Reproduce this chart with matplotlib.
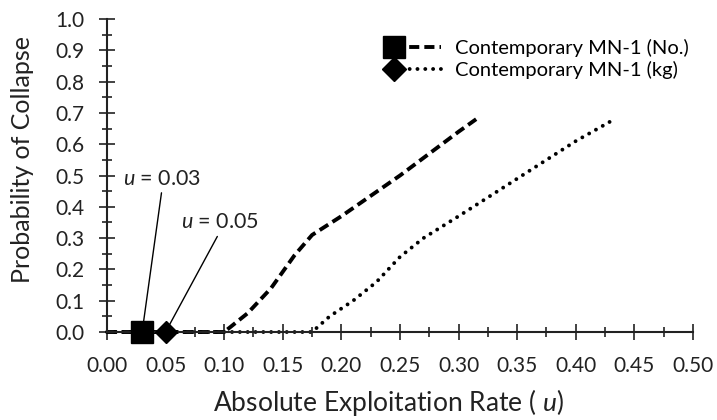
import matplotlib
matplotlib.use("Agg")
import matplotlib.pyplot as plt
from matplotlib.lines import Line2D
from matplotlib.legend_handler import HandlerLine2D
from matplotlib.ticker import MultipleLocator, FormatStrFormatter

plt.rcParams['font.family'] = ['Lato', 'DejaVu Sans']
plt.rcParams['mathtext.fontset'] = 'custom'
plt.rcParams['mathtext.it'] = 'Lato:italic'
plt.rcParams['mathtext.rm'] = 'Lato'

# probability of collapse vs absolute exploitation rate
u_no = [0.00, 0.05, 0.10, 0.12, 0.14, 0.16, 0.175, 0.20, 0.25, 0.30, 0.315]
p_no = [0.00, 0.00, 0.00, 0.06, 0.14, 0.245, 0.31, 0.37, 0.50, 0.64, 0.68]

u_kg = [0.00, 0.05, 0.10, 0.15, 0.175, 0.19, 0.21, 0.23, 0.25, 0.27, 0.30, 0.35, 0.40, 0.433]
p_kg = [0.00, 0.00, 0.00, 0.00, 0.00, 0.05, 0.10, 0.16, 0.24, 0.30, 0.37, 0.49, 0.61, 0.68]

u_thresh_no = 0.03
u_thresh_kg = 0.05

labels = ["Contemporary MN-1 (No.)", "Contemporary MN-1 (kg)"]

DASH = (0, (2.6, 1.3))
DOT = (0, (0.01, 2.0))


class MarkerFirst(HandlerLine2D):
    # keep only the left marker of the legend handle
    def create_artists(self, legend, orig_handle, xdescent, ydescent,
                       width, height, fontsize, trans):
        arts = super().create_artists(legend, orig_handle, xdescent, ydescent,
                                      width, height, fontsize, trans)
        arts[0].set_markevery([0])
        return arts


fig = plt.figure(figsize=(7.17, 4.2), dpi=100)
ax = fig.add_axes([0.1492, 0.2095, 0.8173, 0.7452])

ax.plot(u_no, p_no, color='black', lw=2.8, linestyle=DASH, clip_on=False)
ax.plot(u_kg, p_kg, color='black', lw=2.8, linestyle=DOT,
        dash_capstyle='round', clip_on=False)

ax.plot([u_thresh_no], [0], marker='s', ms=15.5, color='black',
        linestyle='none', clip_on=False, zorder=5)
ax.plot([u_thresh_kg], [0], marker='D', ms=11.5, color='black',
        linestyle='none', clip_on=False, zorder=5)

ax.annotate('$u$ = 0.03', xy=(u_thresh_no, 0.0), xytext=(0.047, 0.49),
            ha='center', va='center', fontsize=15.5, color='#222222',
            arrowprops=dict(arrowstyle='-', color='black', lw=1.0,
                            relpos=(0.5, 0.0), shrinkA=1, shrinkB=0))
ax.annotate('$u$ = 0.05', xy=(u_thresh_kg, 0.0), xytext=(0.096, 0.35),
            ha='center', va='center', fontsize=15.5, color='#222222',
            arrowprops=dict(arrowstyle='-', color='black', lw=1.0,
                            relpos=(0.5, 0.0), shrinkA=1, shrinkB=0))

ax.set_xlim(0, 0.5)
ax.set_ylim(0, 1.0)
ax.xaxis.set_major_locator(MultipleLocator(0.05))
ax.xaxis.set_minor_locator(MultipleLocator(0.025))
ax.yaxis.set_major_locator(MultipleLocator(0.1))
ax.yaxis.set_minor_locator(MultipleLocator(0.05))
ax.xaxis.set_major_formatter(FormatStrFormatter('%.2f'))
ax.yaxis.set_major_formatter(FormatStrFormatter('%.1f'))

ax.tick_params(which='major', direction='inout', length=11, width=1.2,
               labelsize=15, colors='#222222')
ax.tick_params(which='minor', direction='inout', length=7, width=1.2,
               colors='#222222')
ax.tick_params(axis='x', which='major', pad=12)
ax.tick_params(axis='y', which='major', pad=11)

for side in ['top', 'right']:
    ax.spines[side].set_visible(False)
for side in ['left', 'bottom']:
    ax.spines[side].set_linewidth(1.5)
    ax.spines[side].set_color('#222222')

ax.set_xlabel('Absolute Exploitation Rate ( $u$)', fontsize=19, color='#222222')
ax.xaxis.set_label_coords(0.48, -0.225)
ax.xaxis.label.set_va('center')
ax.set_ylabel('Probability of Collapse', fontsize=18, color='#222222')
ax.yaxis.set_label_coords(-0.145, 0.55)
ax.yaxis.label.set_va('center')

h_no = Line2D([0], [0], color='black', lw=2.8, linestyle=DASH,
              marker='s', ms=15.5)
h_kg = Line2D([0], [0], color='black', lw=2.8, linestyle=DOT,
              dash_capstyle='round', marker='D', ms=12)
ax.legend([h_no, h_kg], labels, loc='upper left', bbox_to_anchor=(0.479, 0.937),
          frameon=False, numpoints=2, handlelength=2.95, handletextpad=0.4,
          fontsize=14.5, borderpad=0, borderaxespad=0, labelspacing=0.2,
          handler_map={Line2D: MarkerFirst()})

fig.savefig('out.png', dpi=100)
